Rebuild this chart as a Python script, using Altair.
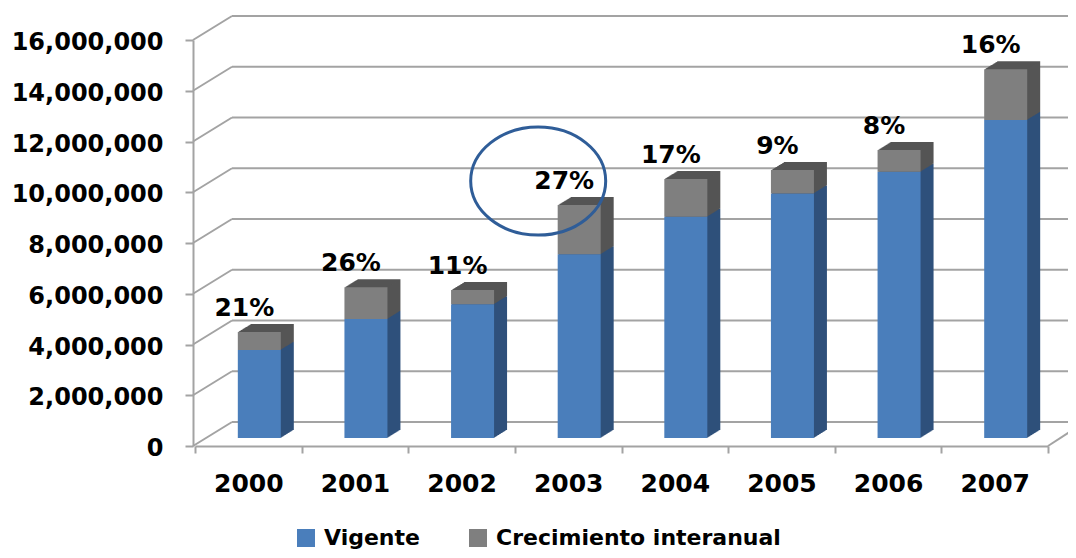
import altair as alt
import pandas as pd

years = ["2000", "2001", "2002", "2003", "2004", "2005", "2006", "2007"]
vigente = [3.47e6, 4.69e6, 5.27e6, 7.24e6, 8.72e6, 9.64e6, 10.49e6, 12.53e6]
crecimiento = [0.71e6, 1.25e6, 0.56e6, 1.94e6, 1.49e6, 0.92e6, 0.86e6, 2.00e6]
growth_labels = ["21%", "26%", "11%", "27%", "17%", "9%", "8%", "16%"]
y_ticks = [0, 2e6, 4e6, 6e6, 8e6, 10e6, 12e6, 14e6, 16e6]
series = ["Vigente", "Crecimiento interanual"]
front_colors = ["#4a7ebb", "#7f7f7f"]
side_colors = ["#2f507b", "#555555"]
highlight_year = "2003"

rows = []
for i, yr in enumerate(years):
    rows.append({"year": yr, "serie": series[0], "value": vigente[i], "order": 0, "side": side_colors[0]})
    rows.append({"year": yr, "serie": series[1], "value": crecimiento[i], "order": 1, "side": side_colors[1]})
df = pd.DataFrame(rows)

df_tot = pd.DataFrame({
    "year": years,
    "total": [v + c for v, c in zip(vigente, crecimiento)],
    "label": growth_labels,
})
df_ticks = pd.DataFrame({"v": y_ticks})

FONT = "DejaVu Sans"
W, H = 853, 406
DEPTH_X, DEPTH_Y = 37, 24
GRID = "#a3a3a3"

yscale = alt.Scale(domain=[0, 16e6], nice=False, zero=True)
xscale = alt.Scale(domain=years, paddingInner=0, paddingOuter=0)

x_axis = alt.Axis(title=None, labelAngle=0, labelFont=FONT, labelFontWeight="bold",
                  labelFontSize=25, labelColor="#000000", labelPadding=18,
                  tickBand="extent", tickSize=7, tickColor=GRID, tickWidth=2,
                  domainColor=GRID, domainWidth=2, grid=False)
y_axis = alt.Axis(title=None, values=y_ticks, format=",.0f", labelFont=FONT,
                  labelFontWeight="bold", labelFontSize=24, labelColor="#000000",
                  labelPadding=22, labelOffset=2.5, tickSize=8, tickColor=GRID, tickWidth=2,
                  domainColor=GRID, domainWidth=2, grid=False, offset=2)


def X():
    return alt.X("year:N", scale=xscale, sort=years, axis=x_axis)


def Y(field, **kw):
    return alt.Y(field, scale=yscale, axis=y_axis, **kw)


# back wall gridlines
grid = alt.Chart(df_ticks).mark_rule(color=GRID, strokeWidth=2, yOffset=-DEPTH_Y).encode(
    y=Y("v:Q"),
    x=alt.value(DEPTH_X),
    x2=alt.value(W + 60),
)
# left wall diagonals
diag = alt.Chart(df_ticks).mark_rule(color=GRID, strokeWidth=2, y2Offset=-DEPTH_Y).encode(
    y=Y("v:Q"),
    y2=alt.Y2("v:Q"),
    x=alt.value(-2),
    x2=alt.value(DEPTH_X),
)
# floor right edge
floor = alt.Chart(df_ticks[df_ticks["v"] == 0]).mark_rule(color=GRID, strokeWidth=2, y2Offset=-DEPTH_Y).encode(
    y=Y("v:Q"),
    y2=alt.Y2("v:Q"),
    x=alt.value(W),
    x2=alt.value(W + DEPTH_X),
)

layers = [grid, diag, floor]

BAR_W = 43
FRONT_DX, FRONT_DY = 11, -8
STEPS = 13
for i in range(STEPS, 0, -1):
    dx = FRONT_DX + i
    dy = FRONT_DY - i * 8.0 / STEPS
    layers.append(
        alt.Chart(df).mark_bar(size=BAR_W, xOffset=dx, x2Offset=dx, yOffset=dy, y2Offset=dy).encode(
            x=X(),
            y=Y("value:Q", stack="zero"),
            color=alt.Color("side:N", scale=None),
            order=alt.Order("order:Q"),
        )
    )

front = alt.Chart(df).mark_bar(size=BAR_W, xOffset=FRONT_DX, x2Offset=FRONT_DX,
                               yOffset=FRONT_DY, y2Offset=FRONT_DY).encode(
    x=X(),
    y=Y("value:Q", stack="zero"),
    color=alt.Color("serie:N", scale=alt.Scale(domain=series, range=front_colors),
                    legend=alt.Legend(title=None, orient="none", legendX=100, legendY=487,
                                      direction="horizontal", symbolType="square",
                                      symbolSize=324, symbolStrokeWidth=0,
                                      labelFont=FONT, labelFontWeight="bold", labelFontSize=22,
                                      labelColor="#000000", labelOffset=7, columnPadding=47,
                                      labelLimit=500)),
    order=alt.Order("order:Q"),
)
layers.append(front)

text = alt.Chart(df_tot).mark_text(font=FONT, fontWeight="bold", fontSize=25, color="#000000",
                                   baseline="middle", dx=-4, dy=-32).encode(
    x=X(),
    y=Y("total:Q"),
    text="label:N",
)
layers.append(text)

ellipse_path = "M -1 0 A 1 0.8 0 1 1 1 0 A 1 0.8 0 1 1 -1 0 Z"
ellipse = alt.Chart(df_tot[df_tot["year"] == highlight_year]).mark_point(
    shape=ellipse_path, size=18225, filled=False, stroke="#2f5d98", strokeWidth=3,
    xOffset=-30, yOffset=-32, opacity=1).encode(
    x=X(),
    y=Y("total:Q"),
)
layers.append(ellipse)

chart = alt.layer(*layers).resolve_scale(color="independent").properties(
    width=W, height=H,
    padding={"left": 187, "top": 32, "right": 20, "bottom": 104},
    autosize=alt.AutoSizeParams(type="none"),
    background="#ffffff",
).configure_view(stroke=None)

chart.save("out.html", embed_options={"renderer": "svg", "actions": False})
